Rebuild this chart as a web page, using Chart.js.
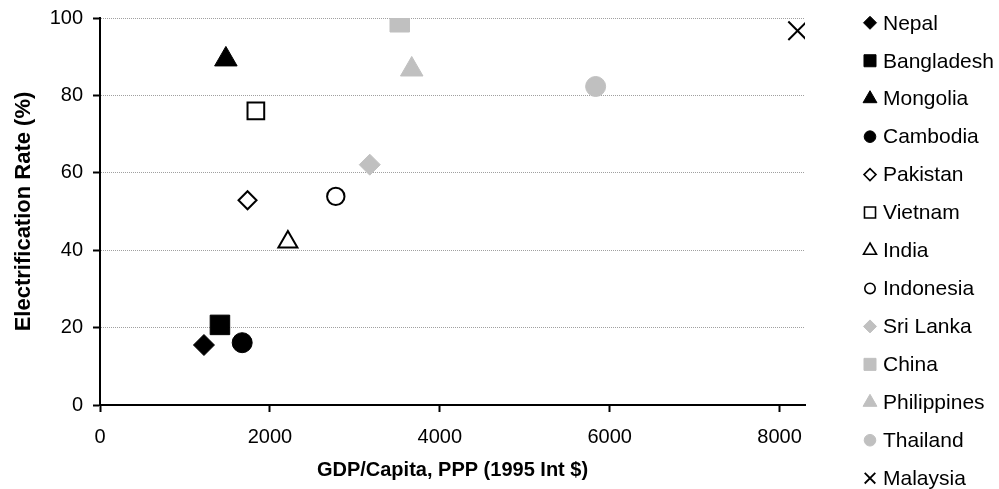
<!DOCTYPE html>
<html>
<head>
<meta charset="utf-8">
<title>Electrification Rate vs GDP per Capita</title>
<script src="https://cdn.jsdelivr.net/npm/chart.js@4.4.1/dist/chart.umd.min.js"></script>
<style>
  html, body { margin: 0; padding: 0; background: #fff; }
  canvas { display: block; }
</style>
</head>
<body>
<canvas id="chart" width="999" height="489"></canvas>
<script>
// Countries, GDP per capita (PPP, 1995 Int $) and electrification rate (%)
const countries = ['Nepal', 'Bangladesh', 'Mongolia', 'Cambodia', 'Pakistan', 'Vietnam', 'India',
                   'Indonesia', 'Sri Lanka', 'China', 'Philippines', 'Thailand', 'Malaysia'];
const gdpPerCapita = [1224, 1412, 1482, 1674, 1737, 1835, 2212, 2776, 3176, 3529, 3670, 5835, 8212];
const electrification = [15.5, 20.7, 89.3, 16.1, 52.9, 76.0, 42.1, 53.9, 62.1, 98.9, 86.7, 82.3, 96.7];
const xTicks = [0, 2000, 4000, 6000, 8000];
const yTicks = [0, 20, 40, 60, 80, 100];

// Marker look for each country: shape, fill and outline
const shapes = ['rectRot', 'rect', 'triangle', 'circle', 'rectRot', 'rect', 'triangle',
                'circle', 'rectRot', 'rect', 'triangle', 'circle', 'crossRot'];
const BLACK = '#000000', GREY = '#c0c0c0', WHITE = '#ffffff';
const fills = [BLACK, BLACK, BLACK, BLACK, WHITE, WHITE, WHITE, WHITE, GREY, GREY, GREY, GREY, BLACK];
const outlines = [BLACK, BLACK, BLACK, BLACK, BLACK, BLACK, BLACK, BLACK, GREY, GREY, GREY, GREY, BLACK];
const hollow = fills.map(f => f === WHITE);

const plotRadius = { rectRot: 10.5, rect: 13.8, triangle: 13, circle: 10, crossRot: 13 };
const hollowRadius = { rectRot: 9, rect: 11.8, triangle: 11, circle: 8.7 };
const legendRadius = { rectRot: 6.5, rect: 8.5, triangle: 8, circle: 5.8, crossRot: 7.5 };
const legendHollowRadius = { rectRot: 6, rect: 7.8, triangle: 7.5, circle: 5.2 };

const FONT = "'Liberation Sans', Arial, Helvetica, sans-serif";

const datasets = countries.map((name, i) => ({
  label: name,
  data: [{ x: gdpPerCapita[i], y: electrification[i] }],
  pointStyle: shapes[i],
  pointRadius: hollow[i] ? hollowRadius[shapes[i]] : plotRadius[shapes[i]],
  pointHoverRadius: hollow[i] ? hollowRadius[shapes[i]] : plotRadius[shapes[i]],
  backgroundColor: fills[i],
  borderColor: outlines[i],
  pointBorderWidth: hollow[i] || shapes[i] === 'crossRot' ? 2 : 1,
  showLine: false
}));

// Small marker drawer for the legend column on the right
function drawMarker(ctx, style, x, y, r, fill, stroke, lw) {
  ctx.save();
  ctx.beginPath();
  if (style === 'circle') {
    ctx.arc(x, y, r, 0, Math.PI * 2);
  } else if (style === 'rect') {
    const s = r * Math.SQRT1_2;
    ctx.rect(x - s, y - s, 2 * s, 2 * s);
  } else if (style === 'rectRot') {
    ctx.moveTo(x - r, y); ctx.lineTo(x, y - r); ctx.lineTo(x + r, y); ctx.lineTo(x, y + r);
    ctx.closePath();
  } else if (style === 'triangle') {
    ctx.moveTo(x, y - r);
    ctx.lineTo(x + Math.sin(Math.PI * 2 / 3) * r, y - Math.cos(Math.PI * 2 / 3) * r);
    ctx.lineTo(x + Math.sin(Math.PI * 4 / 3) * r, y - Math.cos(Math.PI * 4 / 3) * r);
    ctx.closePath();
  } else if (style === 'crossRot') {
    const d = r * Math.SQRT1_2;
    ctx.moveTo(x - d, y - d); ctx.lineTo(x + d, y + d);
    ctx.moveTo(x + d, y - d); ctx.lineTo(x - d, y + d);
  }
  if (style !== 'crossRot') { ctx.fillStyle = fill; ctx.fill(); }
  ctx.lineWidth = lw;
  ctx.strokeStyle = stroke;
  ctx.stroke();
  ctx.restore();
}

const sideLegend = {
  id: 'sideLegend',
  afterDraw(chart) {
    const ctx = chart.ctx;
    const markerX = 870, textX = 883, firstY = 22.8, step = 37.95;
    ctx.save();
    ctx.font = '21px ' + FONT;
    ctx.fillStyle = '#000';
    ctx.textBaseline = 'middle';
    ctx.textAlign = 'left';
    chart.data.datasets.forEach((ds, i) => {
      const y = firstY + i * step;
      const style = ds.pointStyle;
      const r = hollow[i] ? legendHollowRadius[style] : legendRadius[style];
      const lw = hollow[i] ? 1.6 : (style === 'crossRot' ? 1.8 : 1);
      drawMarker(ctx, style, markerX, y, r, ds.backgroundColor, ds.borderColor, lw);
      ctx.fillText(ds.label, textX, y + 1);
    });
    ctx.restore();
  }
};

new Chart(document.getElementById('chart'), {
  type: 'scatter',
  data: { datasets },
  plugins: [sideLegend],
  options: {
    responsive: false,
    animation: false,
    layout: { padding: { left: 0, right: 194, top: 18, bottom: 0 } },
    plugins: { legend: { display: false }, tooltip: { enabled: false } },
    scales: {
      x: {
        type: 'linear',
        min: 0,
        max: 8300,
        afterFit(scale) { scale.height = 84; scale.paddingLeft = 0; scale.paddingRight = 0; },
        afterBuildTicks(scale) { scale.ticks = xTicks.map(v => ({ value: v })); },
        ticks: {
          color: '#000', font: { family: FONT, size: 20 }, padding: 13, maxRotation: 0,
          callback: v => String(v)
        },
        grid: { drawOnChartArea: false, drawTicks: true, tickLength: 7, tickColor: '#000', tickWidth: 2 },
        border: { display: true, color: '#000', width: 2 },
        title: {
          display: true,
          text: 'GDP/Capita, PPP (1995 Int $)',
          color: '#000',
          font: { family: FONT, size: 20, weight: 'bold' },
          padding: { top: 0, bottom: 7 }
        }
      },
      y: {
        type: 'linear',
        min: 0,
        max: 100,
        afterFit(scale) { scale.width = 100; scale.paddingTop = 0; scale.paddingBottom = 0; },
        afterBuildTicks(scale) { scale.ticks = yTicks.map(v => ({ value: v })); },
        ticks: { color: '#000', font: { family: FONT, size: 20 }, padding: 10, callback: v => String(v) },
        grid: {
          color: c => (c.tick && c.tick.value === 0) ? 'rgba(0,0,0,0)' : '#a0a0a0',
          lineWidth: 1,
          drawTicks: true,
          tickLength: 7,
          tickColor: '#000',
          tickWidth: 2,
          borderDash: [1, 1]
        },
        border: { display: true, color: '#000', width: 2, dash: [1, 1] },
        title: {
          display: true,
          text: 'Electrification Rate (%)',
          color: '#000',
          font: { family: FONT, size: 22, weight: 'bold' },
          padding: { top: 11, bottom: 0 }
        }
      }
    }
  }
});
</script>
</body>
</html>
